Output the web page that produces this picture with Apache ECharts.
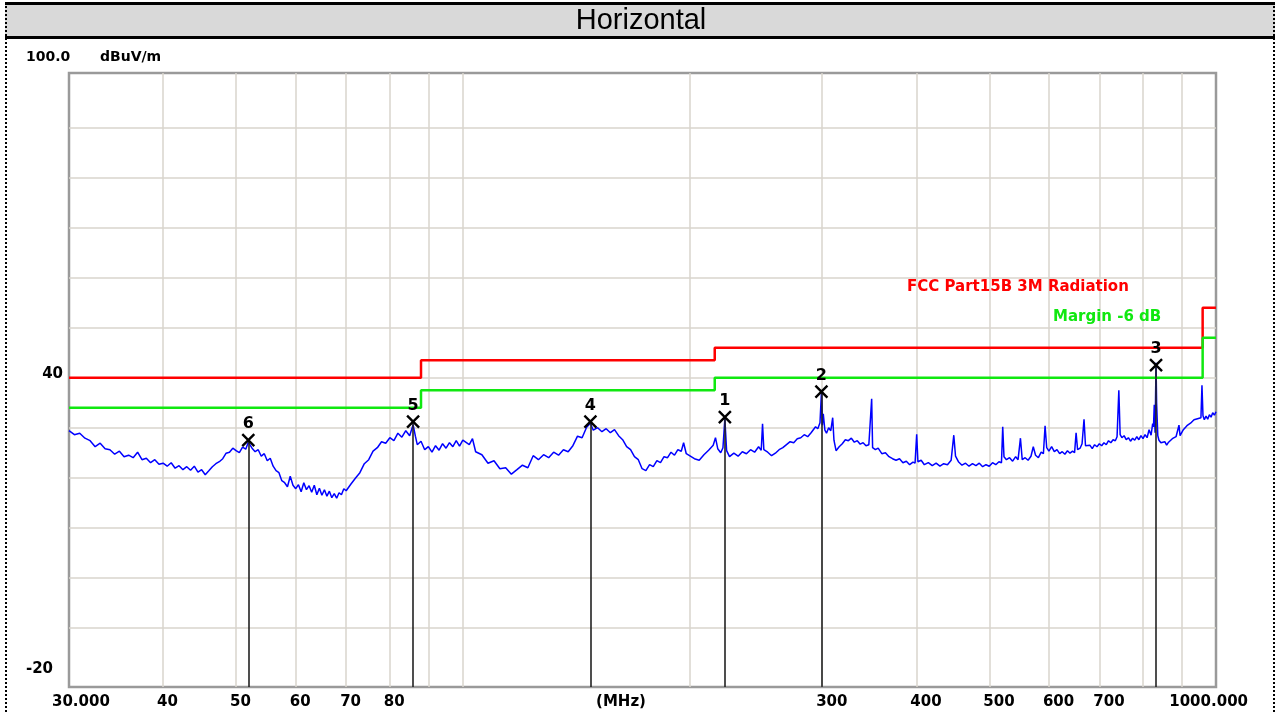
<!DOCTYPE html>
<html>
<head>
<meta charset="utf-8">
<script src="https://cdn.jsdelivr.net/npm/echarts@6/dist/echarts.min.js"></script>
<style>
  html, body { margin: 0; padding: 0; background: #fff; }
  #chart { width: 1277px; height: 713px; }
</style>
</head>
<body>
<div id="chart"></div>
<script>
// measured spectrum, [MHz, dBuV/m]
const tracePoints = [
  [30,29.4],[30.5,28.6],[31,28.9],[31.5,27.9],[32,27.4],[32.5,26.2],[33,26.9],[33.5,25.8],[34,25.6],[34.5,24.7],
  [35,25.3],[35.5,24.2],[36,24.5],[36.5,24.0],[37,25.1],[37.5,23.6],[38,23.9],[38.5,23.0],[39,23.6],[39.5,22.7],
  [40,22.9],[40.5,22.3],[41,23.0],[41.5,21.9],[42,22.4],[42.5,21.6],[43,22.2],[43.5,21.5],[44,22.3],[44.5,21.1],
  [45,21.6],[45.5,20.6],[46,21.4],[46.5,22.2],[47,22.8],[47.5,23.2],[48,23.8],[48.5,24.9],[49,25.1],[49.5,25.9],
  [50,25.4],[50.5,25.0],[51,26.1],[51.5,25.7],[51.9,27.1],[52.5,25.9],[53,25.2],[53.5,25.6],[54,24.3],[54.5,24.8],
  [55,23.4],[55.5,23.9],[56,22.3],[56.5,21.4],[57,21.0],[57.5,19.4],[58,19.0],[58.5,18.2],[59,20.3],[59.5,18.5],
  [60,17.8],[60.5,18.6],[61,17.2],[61.5,19.0],[62,17.6],[62.5,18.4],[63,17.1],[63.5,18.5],[64,16.6],[64.5,17.9],
  [65,16.5],[65.5,17.6],[66,16.3],[66.5,17.3],[67,16.0],[67.5,16.8],[68,15.9],[68.5,17.0],[69,16.6],[69.5,17.8],
  [70,17.4],[71,18.7],[72,19.9],[73,21.0],[74,22.8],[75,23.6],[76,25.3],[77,26.0],[78,27.2],[79,26.9],
  [80,28.0],[81,27.4],[82,28.9],[83,28.1],[84,29.4],[85,28.4],[85.9,30.6],[86.5,28.3],[87,26.6],[88,27.3],
  [89,25.6],[90,26.2],[91,25.1],[92,26.4],[93,25.5],[94,26.8],[95,25.9],[96,27.0],[97,26.2],[98,27.4],
  [99,26.3],[100,27.5],[102,26.6],[103,27.8],[104,25.2],[106,24.6],[108,22.9],[110,23.4],[112,21.8],[114,22.0],
  [116,20.7],[118,21.6],[120,22.5],[122,22.0],[124,24.4],[126,23.6],[128,24.6],[130,24.0],[132,25.1],[134,24.5],
  [136,25.6],[138,25.2],[140,26.4],[142,28.3],[144,28.0],[146,30.1],[147.7,30.9],[149,29.5],[151,30.0],[153,29.2],
  [155,29.8],[157,29.0],[159,29.6],[161,28.4],[163,27.6],[165,26.2],[167,25.6],[169,24.2],[171,23.6],[173,21.8],
  [175,21.4],[177,22.6],[179,22.2],[181,23.4],[183,23.0],[185,24.2],[187,24.0],[189,25.1],[191,24.5],[193,25.6],
  [195,25.3],[196.4,27.0],[198,24.8],[200,24.4],[203,23.8],[206,23.5],[209,24.6],[212,25.5],[215,26.5],[216.5,28.0],
  [218,25.8],[220,25.0],[221.5,26.0],[222.8,31.8],[224,25.4],[226,24.2],[229,24.9],[232,24.3],[235,25.2],[238,24.8],
  [241,25.6],[244,25.1],[247,26.2],[249,25.5],[250,30.8],[251,25.6],[254,25.1],[257,24.4],[260,24.9],[263,25.6],
  [266,26.0],[269,26.6],[272,27.2],[275,27.0],[278,27.8],[281,28.0],[284,28.6],[287,28.2],[290,29.0],[292,29.6],
  [294,30.2],[296,29.8],[298,31.0],[299.3,37.0],[300.2,30.5],[301,32.8],[302.5,29.5],[304,28.9],[306,30.0],[308,29.4],
  [309.8,32.0],[311,27.5],[313,25.4],[316,26.2],[319,26.8],[322,27.6],[325,27.4],[328,27.9],[331,27.1],[334,27.4],
  [337,26.7],[340,27.0],[343,26.4],[346,26.6],[349,35.8],[350,26.0],[353,25.6],[356,25.9],[360,24.8],[364,25.0],
  [368,24.2],[372,23.8],[376,23.5],[380,23.8],[384,23.0],[388,23.3],[392,22.6],[396,23.1],[398.5,22.9],[400.5,28.7],
  [402,23.2],[406,23.5],[410,22.6],[415,23.0],[420,22.4],[425,22.9],[430,22.3],[435,22.8],[440,22.6],[445,23.5],
  [448.6,28.5],[451,24.3],[455,23.2],[460,22.5],[465,22.9],[470,22.3],[475,22.8],[480,22.4],[485,22.9],[490,22.2],
  [495,22.6],[500,22.3],[505,23.0],[510,22.6],[515,23.2],[519,23.0],[521,30.2],[523,24.2],[527,23.6],[532,24.0],
  [537,23.3],[542,24.2],[546,23.6],[550,27.9],[553,23.6],[558,24.0],[563,23.5],[568,24.3],[572,26.2],[576,24.5],
  [581,24.0],[586,25.1],[590,24.8],[593,30.4],[596,26.0],[600,25.3],[605,26.2],[610,25.2],[615,25.6],[620,24.8],
  [625,25.2],[630,24.7],[635,25.4],[640,24.9],[645,25.3],[649,25.0],[652,29.0],[655,25.6],[660,25.9],[664,26.8],
  [668,31.7],[671,26.4],[675,26.0],[680,26.5],[685,25.8],[690,26.6],[695,26.2],[700,26.8],[705,26.4],[710,27.0],
  [715,26.6],[720,27.4],[725,27.0],[730,27.6],[735,27.4],[739,28.2],[743,37.5],[746,28.6],[750,28.0],[755,28.4],
  [760,27.6],[765,28.0],[770,27.3],[775,27.9],[780,27.5],[785,28.2],[790,27.6],[795,28.4],[800,27.8],[805,28.6],
  [810,28.0],[815,29.6],[820,28.5],[824,30.8],[826,30.2],[828,34.6],[830,29.0],[832.5,43.0],[834,34.9],[837,28.4],
  [840,27.5],[845,27.0],[850,26.8],[855,27.2],[860,26.5],[865,27.1],[870,26.9],[875,27.8],[880,27.4],[885,28.2],
  [889,28.0],[893,30.5],[896,28.4],[900,28.8],[905,29.6],[910,29.3],[915,30.4],[920,30.0],[925,30.9],[930,30.5],
  [935,31.6],[940,31.2],[945,31.8],[950,31.4],[955,32.0],[958,38.5],[961,32.4],[965,31.6],[970,32.3],[975,31.7],
  [980,32.6],[985,32.1],[990,33.0],[995,32.5],[1000,33.2]
];

// FCC Part 15B class B, 3 m
const limitFreq = [30, 88, 216, 960, 1000];
const fccLimit = [40, 43.5, 46, 54, 54];
const marginLimit = [34, 37.5, 40, 48, 48];

const markerNames = ['1', '2', '3', '4', '5', '6'];
const markerFreq = [222.8, 299.3, 832.5, 147.7, 85.9, 51.9];
const markerLevel = [32.1, 37.2, 42.5, 31.2, 31.2, 27.5];

const freqGrid = [40, 50, 60, 70, 80, 90, 100, 200, 300, 400, 500, 600, 700, 800, 900];
const levelGrid = [-10, 0, 10, 20, 30, 40, 50, 60, 70, 80, 90];

const freqTicks = [30, 40, 50, 60, 70, 80, 300, 400, 500, 600, 700, 1000];
const freqTickText = ['30.000', '40', '50', '60', '70', '80', '300', '400', '500', '600', '700', '1000.000'];
const levelTicks = [40, -20];

const BOLD = 'bold 15px "DejaVu Sans", sans-serif';
const GRID_COLOR = '#d8d4cc';
const Y_MIN = -21.86, Y_MAX = 100.94;

const chart = echarts.init(document.getElementById('chart'));

const noMark = { symbol: ['none', 'none'], silent: true, label: { show: false } };

chart.setOption({
  backgroundColor: '#fff',
  animation: false,
  grid: {
    left: 69, right: 61, top: 73, bottom: 26,
    show: true, backgroundColor: '#fff',
    borderColor: '#9a9a9a', borderWidth: 2.5
  },
  xAxis: { type: 'log', logBase: 10, min: 30, max: 1000, show: false },
  yAxis: { type: 'value', min: Y_MIN, max: Y_MAX, show: false },
  series: [
    {
      // grid lines only
      type: 'line', data: [], silent: true, z: 1,
      markLine: Object.assign({}, noMark, {
        z: 1,
        lineStyle: { color: GRID_COLOR, width: 1.5, type: 'solid' },
        data: freqGrid.map(f => ({ xAxis: f }))
          .concat(levelGrid.map(v => ({ yAxis: v })))
      })
    },
    {
      name: 'FCC Part15B 3M Radiation', type: 'line', step: 'end', z: 4,
      symbol: 'none', silent: true,
      lineStyle: { color: '#ff0000', width: 2.5 },
      data: limitFreq.map((f, i) => [f, fccLimit[i]])
    },
    {
      name: 'Margin -6 dB', type: 'line', step: 'end', z: 4,
      symbol: 'none', silent: true,
      lineStyle: { color: '#10e810', width: 2.5 },
      data: limitFreq.map((f, i) => [f, marginLimit[i]])
    },
    {
      name: 'Horizontal', type: 'line', z: 3,
      symbol: 'none', silent: true,
      lineStyle: { color: '#0000ff', width: 1.5 },
      data: tracePoints
    },
    {
      name: 'Markers', type: 'scatter', z: 6, silent: true,
      symbol: 'path://M0,0L10,10M10,0L0,10',
      symbolSize: 12,
      itemStyle: { color: 'transparent', borderColor: '#000', borderWidth: 2.4, opacity: 1 },
      label: {
        show: true, position: 'top', distance: 1,
        color: '#000', fontSize: 16, fontWeight: 'bold',
        fontFamily: '"DejaVu Sans", sans-serif',
        formatter: p => markerNames[p.dataIndex]
      },
      data: markerFreq.map((f, i) => [f, markerLevel[i]]),
      markLine: Object.assign({}, noMark, {
        z: 5,
        lineStyle: { color: '#222', width: 1.6, type: 'solid', opacity: 1 },
        data: markerFreq.map((f, i) => [
          { coord: [f, markerLevel[i]] },
          { coord: [f, Y_MIN] }
        ])
      })
    }
  ]
});

// frame, title and texts placed through the axes
const gfx = [
  { type: 'rect', shape: { x: 5, y: 3, width: 1270, height: 35 }, style: { fill: '#d9d9d9' }, z: 10 },
  { type: 'line', shape: { x1: 5, y1: 3.5, x2: 1275, y2: 3.5 }, style: { stroke: '#000', lineWidth: 3 }, z: 11 },
  { type: 'line', shape: { x1: 5, y1: 37.5, x2: 1275, y2: 37.5 }, style: { stroke: '#000', lineWidth: 3 }, z: 11 },
  { type: 'line', shape: { x1: 6, y1: 2, x2: 6, y2: 713 }, style: { stroke: '#000', lineWidth: 2, lineDash: [2, 2] }, z: 11 },
  { type: 'line', shape: { x1: 1274, y1: 2, x2: 1274, y2: 713 }, style: { stroke: '#000', lineWidth: 2, lineDash: [2, 2] }, z: 11 },
  { type: 'text', x: 641, y: 21, z: 12,
    style: { text: 'Horizontal', fill: '#000', font: '29px "Liberation Sans", Arial, sans-serif', align: 'center', verticalAlign: 'middle' } },
  { type: 'text', x: 26, y: 57, z: 12,
    style: { text: '100.0', fill: '#000', font: 'bold 14px "DejaVu Sans", sans-serif', align: 'left', verticalAlign: 'middle' } },
  { type: 'text', x: 100, y: 57, z: 12,
    style: { text: 'dBuV/m', fill: '#000', font: 'bold 14px "DejaVu Sans", sans-serif', align: 'left', verticalAlign: 'middle' } },
  { type: 'text', x: 907, y: 287, z: 12,
    style: { text: 'FCC Part15B 3M Radiation', fill: '#ff0000', font: BOLD, align: 'left', verticalAlign: 'middle' } },
  { type: 'text', x: 1053, y: 317, z: 12,
    style: { text: 'Margin -6 dB', fill: '#10e810', font: BOLD, align: 'left', verticalAlign: 'middle' } },
  { type: 'text', x: 621, y: 702, z: 12,
    style: { text: '(MHz)', fill: '#000', font: BOLD, align: 'center', verticalAlign: 'middle' } }
];

const last = freqTicks.length - 1;
freqTicks.forEach((f, i) => {
  const px = chart.convertToPixel({ xAxisIndex: 0 }, f);
  let x = px - 6, align = 'left';
  if (i === 0) x = px - 17;
  if (i === last) { x = px + 32; align = 'right'; }
  gfx.push({ type: 'text', x: x, y: 702, z: 12,
    style: { text: freqTickText[i], fill: '#000', font: BOLD, align: align, verticalAlign: 'middle' } });
});

levelTicks.forEach((v, i) => {
  const py = chart.convertToPixel({ yAxisIndex: 0 }, v);
  gfx.push({ type: 'text', x: i === 0 ? 63 : 53, y: py - (i === 0 ? 4 : 9), z: 12,
    style: { text: String(v), fill: '#000', font: BOLD, align: 'right', verticalAlign: 'middle' } });
});

chart.setOption({ graphic: gfx });
</script>
</body>
</html>
